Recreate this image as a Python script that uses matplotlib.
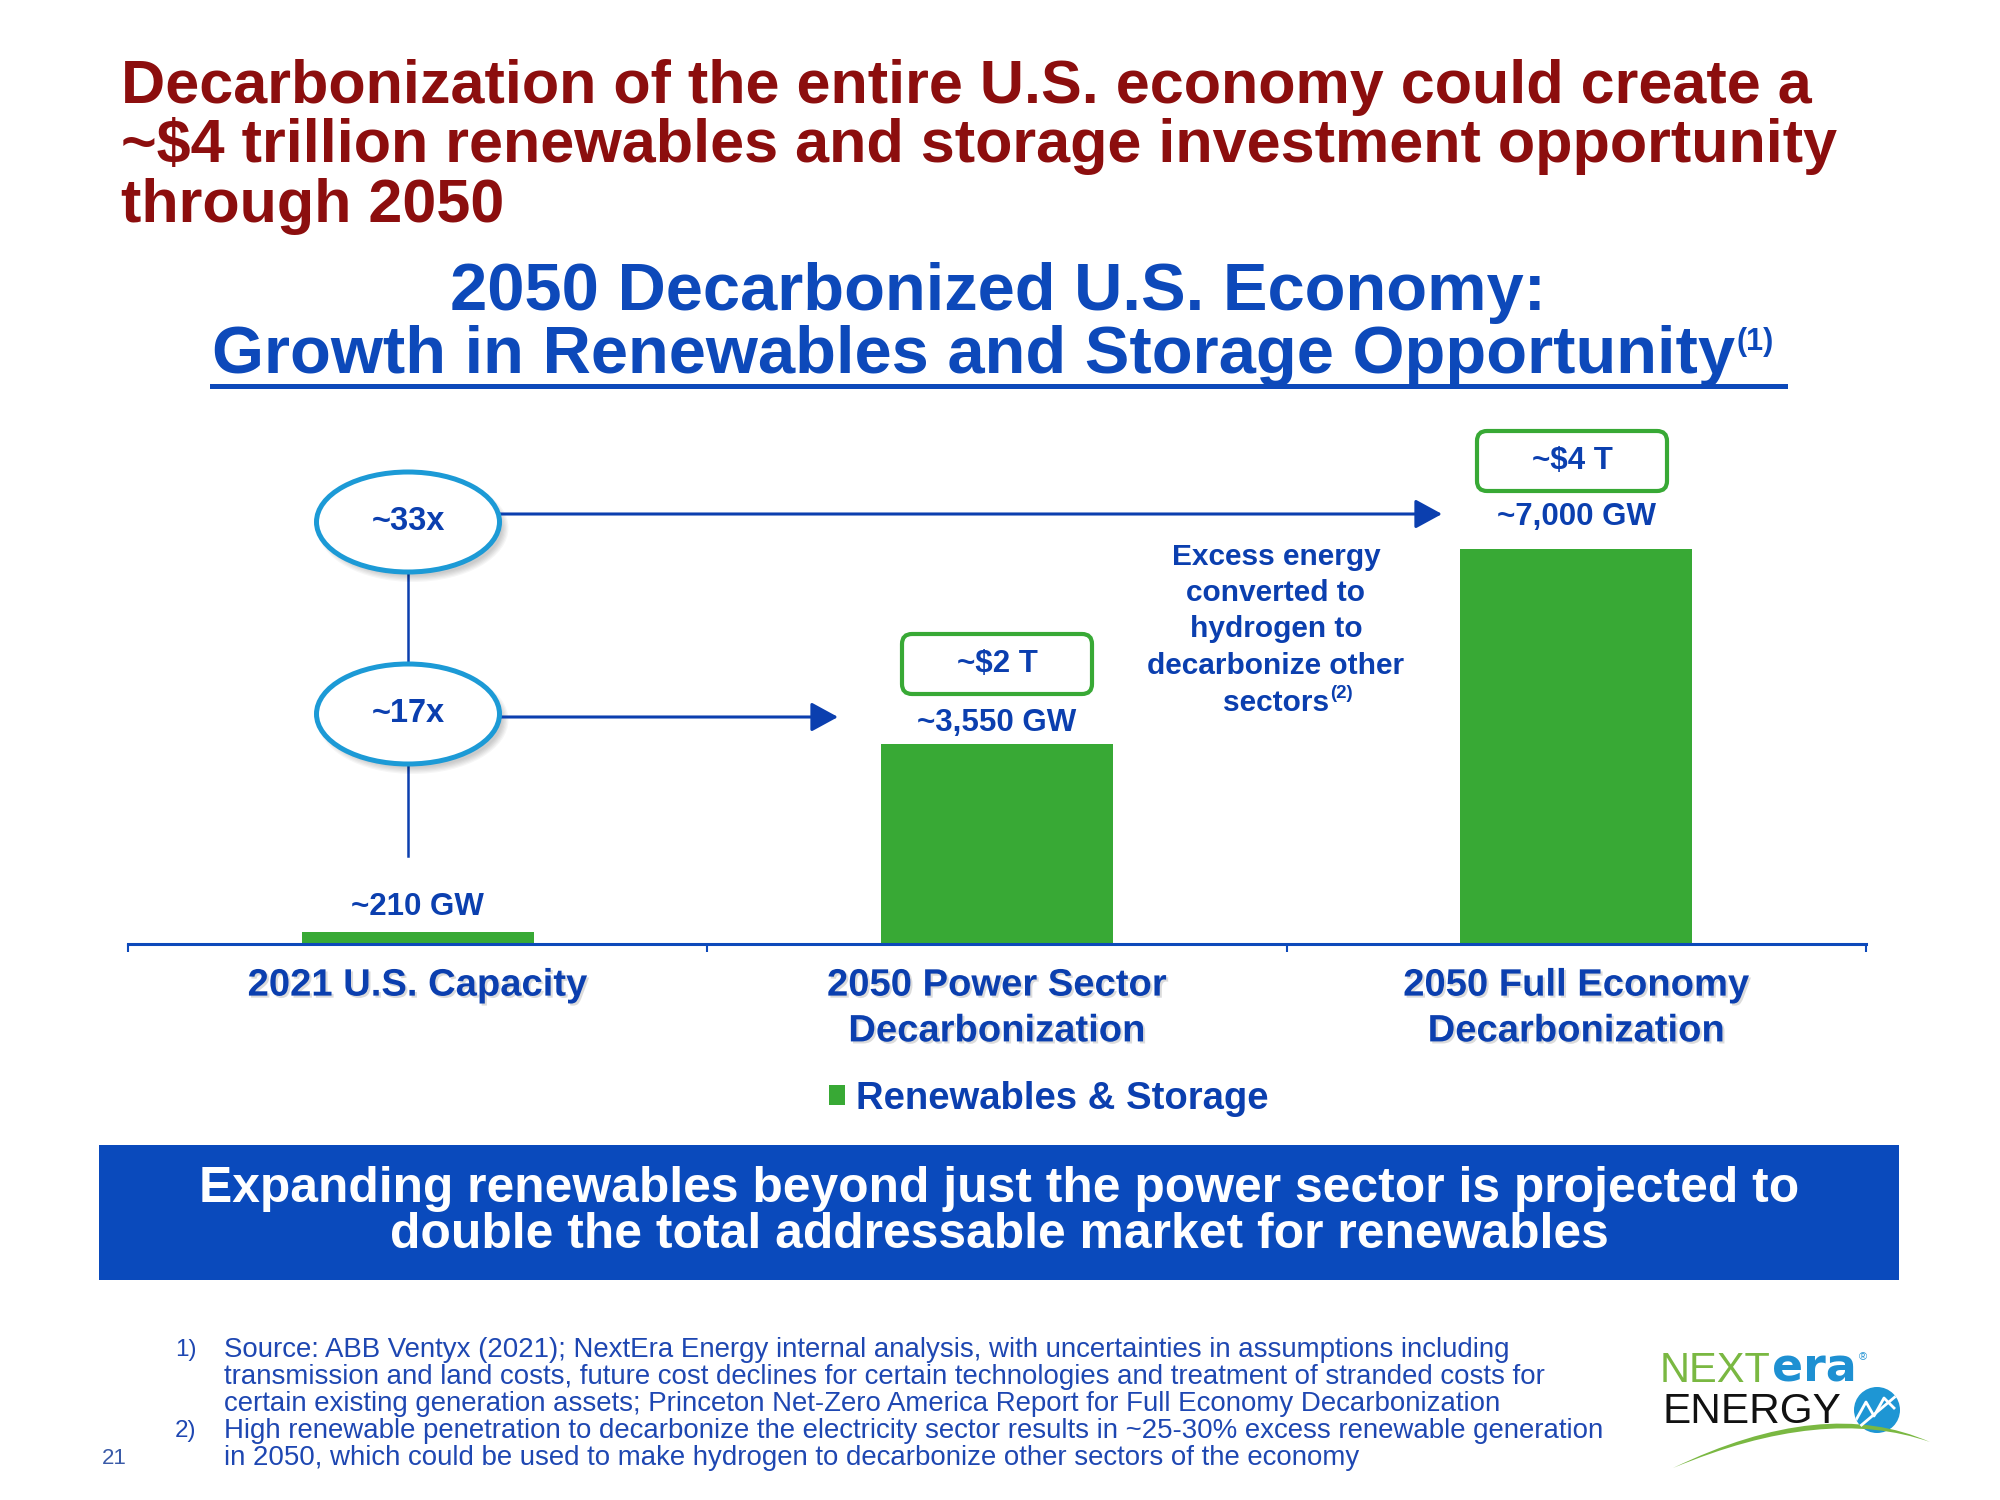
import matplotlib
matplotlib.use('Agg')
import matplotlib.pyplot as plt
from matplotlib import transforms as mtransforms
from matplotlib.patches import Ellipse, FancyBboxPatch, Rectangle, FancyArrowPatch, PathPatch, Circle
from matplotlib.lines import Line2D
from matplotlib.path import Path
from matplotlib import patheffects as pe

# ---------------- data ----------------
categories = ['2021 U.S. Capacity',
              '2050 Power Sector\nDecarbonization',
              '2050 Full Economy\nDecarbonization']
capacity_gw = [210, 3550, 7000]
value_labels = ['~210 GW', '~3,550 GW', '~7,000 GW']
investment_labels = ['~$2 T', '~$4 T']
multiples = ['~33x', '~17x']
series_name = 'Renewables & Storage'

title_lines = ['Decarbonization of the entire U.S. economy could create a',
               '~$4 trillion renewables and storage investment opportunity',
               'through 2050']
subtitle_lines = ['2050 Decarbonized U.S. Economy:',
                  'Growth in Renewables and Storage Opportunity']
excess_lines = ['Excess energy', 'converted to', 'hydrogen to',
                'decarbonize other', 'sectors']
banner_lines = ['Expanding renewables beyond just the power sector is projected to',
                'double the total addressable market for renewables']
footnotes = [('1)', 'Source: ABB Ventyx (2021); NextEra Energy internal analysis, with uncertainties in assumptions including'),
             ('', 'transmission and land costs, future cost declines for certain technologies and treatment of stranded costs for'),
             ('', 'certain existing generation assets; Princeton Net-Zero America Report for Full Economy Decarbonization'),
             ('2)', 'High renewable penetration to decarbonize the electricity sector results in ~25-30% excess renewable generation'),
             ('', 'in 2050, which could be used to make hydrogen to decarbonize other sectors of the economy')]
page_number = '21'

# ---------------- style ----------------
plt.rcParams['font.family'] = ['Liberation Sans', 'DejaVu Sans']
RED = '#8C0E0E'
BLUE = '#0D49BA'
DARK = '#0B3FAF'
GREEN = '#38A935'
CYAN = '#1C9AD6'
BANNER = '#0A4ABC'

W, H = 2000, 1500
fig = plt.figure(figsize=(20, 15), dpi=100)
fig.patch.set_facecolor('white')
PX = mtransforms.Affine2D().scale(1, -1).translate(0, H).scale(1 / W, 1 / H) + fig.transFigure
renderer = fig.canvas.get_renderer()


def ftext(x, y, s, **kw):
    return fig.text(x, y, s, transform=PX, **kw)


def fit(t, target):
    w = t.get_window_extent(renderer).width
    t.set_fontsize(t.get_fontsize() * target / w)
    return t.get_fontsize()


def right_px(t):
    return t.get_window_extent(renderer).x1


# ---------------- titles ----------------
tl = [ftext(121, yb, s, fontsize=44, fontweight='bold', color=RED, ha='left', va='baseline')
      for s, yb in zip(title_lines, [103, 162, 222])]
fs = fit(tl[0], 1692)
for t in tl[1:]:
    t.set_fontsize(fs)

s1 = ftext(998, 310, subtitle_lines[0], fontsize=47, fontweight='bold', color=BLUE,
           ha='center', va='baseline')
s2 = ftext(212, 373, subtitle_lines[1], fontsize=47, fontweight='bold', color=BLUE,
           ha='left', va='baseline')
fs = fit(s2, 1520)
s1.set_fontsize(fs)
ftext(right_px(s2) + 1, 350, '(1)', fontsize=22, fontweight='bold', color=BLUE,
      ha='left', va='baseline')
fig.add_artist(Line2D([212, 1785], [386, 386], transform=PX, color=BLUE, lw=3.6))

# ---------------- chart ----------------
ax = fig.add_axes([128 / W, 1 - 944 / H, 1738 / W, 524 / H])
ax.patch.set_alpha(0)
bars = ax.bar(range(len(capacity_gw)), capacity_gw, width=0.4, color=GREEN,
              label=series_name, zorder=2)
ax.set_xlim(-0.5, len(categories) - 0.5)
ax.set_ylim(0, 9280)
for sp in ['top', 'left', 'right']:
    ax.spines[sp].set_visible(False)
ax.spines['bottom'].set_color(BLUE)
ax.spines['bottom'].set_linewidth(2.2)
ax.spines['bottom'].set_zorder(3)
ax.set_yticks([])
ax.set_xticks(range(len(categories)), categories)
ax.set_xticks([i - 0.5 for i in range(len(categories) + 1)], minor=True)
ax.tick_params(axis='x', which='major', length=0, pad=17, labelsize=27.5, labelcolor=DARK)
ax.tick_params(axis='x', which='minor', length=6, width=1.5, color=BLUE, direction='out')
for lbl in ax.get_xticklabels():
    lbl.set_fontweight('bold')
    lbl.set_linespacing(1.35)
    lbl.set_path_effects([pe.withSimplePatchShadow(offset=(1.5, -1.5), shadow_rgbFace='#999999', alpha=0.35)])

label_pad_pt = [7, 4, 12]
for i, (v, s) in enumerate(zip(capacity_gw, value_labels)):
    ax.annotate(s, (i, v), xytext=(0, label_pad_pt[i]), textcoords='offset points',
                ha='center', va='bottom', fontsize=22.5, fontweight='bold', color=DARK)

# investment boxes
for (x0, y0), s in zip([(902, 634), (1477, 431)], investment_labels):
    fig.add_artist(FancyBboxPatch((x0, y0), 190, 60, boxstyle='round,pad=0,rounding_size=10',
                                  transform=PX, fc='white', ec=GREEN, lw=3.0, zorder=4))
    ftext(x0 + 95, y0 + 30, s, fontsize=22.5, fontweight='bold', color=DARK,
          ha='center', va='center', zorder=5)

# multiplier ellipses, connectors and arrows
ell_cx = 408
ell_cy = [522, 714]
fig.add_artist(Line2D([ell_cx, ell_cx], [572, 665], transform=PX, color=DARK, lw=1.8, zorder=2))
fig.add_artist(Line2D([ell_cx, ell_cx], [764, 856], transform=PX, color=DARK, lw=1.8, zorder=2))
for cy, s in zip(ell_cy, multiples):
    for k in range(6):
        fig.add_artist(Ellipse((ell_cx + 5, cy + 6), 183 + 8 - 2.5 * k, 100 + 8 - 2.5 * k,
                               transform=PX, fc='#000000', ec='none', alpha=0.035, zorder=3))
    fig.add_artist(Ellipse((ell_cx, cy), 183, 100, transform=PX, fc='white', ec=CYAN,
                           lw=3.6, zorder=4))
    ftext(ell_cx, cy, s, fontsize=23.5, fontweight='bold', color=DARK, ha='center',
          va='center', zorder=5)

for (x0, x1, y) in [(500, 1442, 514), (500, 838, 717)]:
    fig.add_artist(FancyArrowPatch((x0, y), (x1, y), transform=PX,
                                   arrowstyle='-|>,head_length=0.55,head_width=0.3',
                                   mutation_scale=30, color=DARK, lw=2.2,
                                   shrinkA=0, shrinkB=0, zorder=3))

# excess energy note
ex = []
for s, y in zip(excess_lines, [557, 593, 629, 666, 703]):
    ex.append(ftext(1276, y, s, fontsize=21.5, fontweight='bold', color=DARK,
                    ha='center', va='center'))
ftext(right_px(ex[-1]) + 1, 698, '(2)', fontsize=13.5, fontweight='bold', color=DARK,
      ha='left', va='baseline')

# legend
fig.legend(handles=[bars], labels=[series_name], loc='center left',
           bbox_to_anchor=(829 / W, 1 - 1099 / H), frameon=False,
           prop={'weight': 'bold', 'size': 27.5}, labelcolor=DARK,
           handlelength=0.42, handleheight=0.42, handletextpad=0.3,
           borderpad=0, borderaxespad=0)

# ---------------- banner ----------------
fig.add_artist(Rectangle((99, 1145), 1800, 135, transform=PX, fc=BANNER, ec='none', zorder=1))
b1 = ftext(999, 1202, banner_lines[0], fontsize=34, fontweight='bold', color='white',
           ha='center', va='baseline', zorder=3)
b2 = ftext(999, 1248, banner_lines[1], fontsize=34, fontweight='bold', color='white',
           ha='center', va='baseline', zorder=3)
fs = fit(b1, 1601)
b2.set_fontsize(fs)

# ---------------- footnotes ----------------
fts = []
for (mk, s), y in zip(footnotes, [1350, 1377, 1404, 1431, 1458]):
    if mk:
        ftext(175, y, mk, fontsize=17.5, color='#1E47B2', ha='left', va='center')
    fts.append(ftext(224, y, s, fontsize=17, color='#1E47B2', ha='left', va='center'))
fs = fit(fts[0], 1290)
for t in fts[1:]:
    t.set_fontsize(fs)
ftext(102, 1458, page_number, fontsize=16, color='#3A5BA8', ha='left', va='center')

# ---------------- logo ----------------
n = ftext(1660, 1382, 'NEXT', fontsize=30, color='#7AB842', ha='left', va='baseline')
e = ftext(right_px(n) + 1, 1382, 'era', fontsize=33, fontweight='bold', color='#1E90D2',
          ha='left', va='baseline', family=['DejaVu Sans'])
ftext(right_px(e) + 2, 1360, '®', fontsize=8, color='#1E90D2', ha='left', va='baseline')
ftext(1662, 1423, 'ENERGY', fontsize=30.5, color='#111111', ha='left', va='baseline')
circ = Circle((1877, 1410), 23, transform=PX, fc='#1E96D4', ec='none', zorder=3)
fig.add_artist(circ)
for pts in [[(1856, 1420), (1866, 1402), (1874, 1416), (1884, 1398), (1894, 1408)],
            [(1858, 1428), (1896, 1396)]]:
    xs, ys = zip(*pts)
    ln = Line2D(xs, ys, transform=PX, color='white', lw=2.0, zorder=4)
    ln.set_clip_path(circ)
    fig.add_artist(ln)
sw = Path([(1673, 1468), (1824, 1395), (1930, 1442), (1824, 1405), (1673, 1468), (1673, 1468)],
          [Path.MOVETO, Path.CURVE3, Path.CURVE3, Path.CURVE3, Path.CURVE3, Path.CLOSEPOLY])
fig.add_artist(PathPatch(sw, transform=PX, fc='#7AB842', ec='none', zorder=3))

fig.savefig('out.png', dpi=100, facecolor='white')
